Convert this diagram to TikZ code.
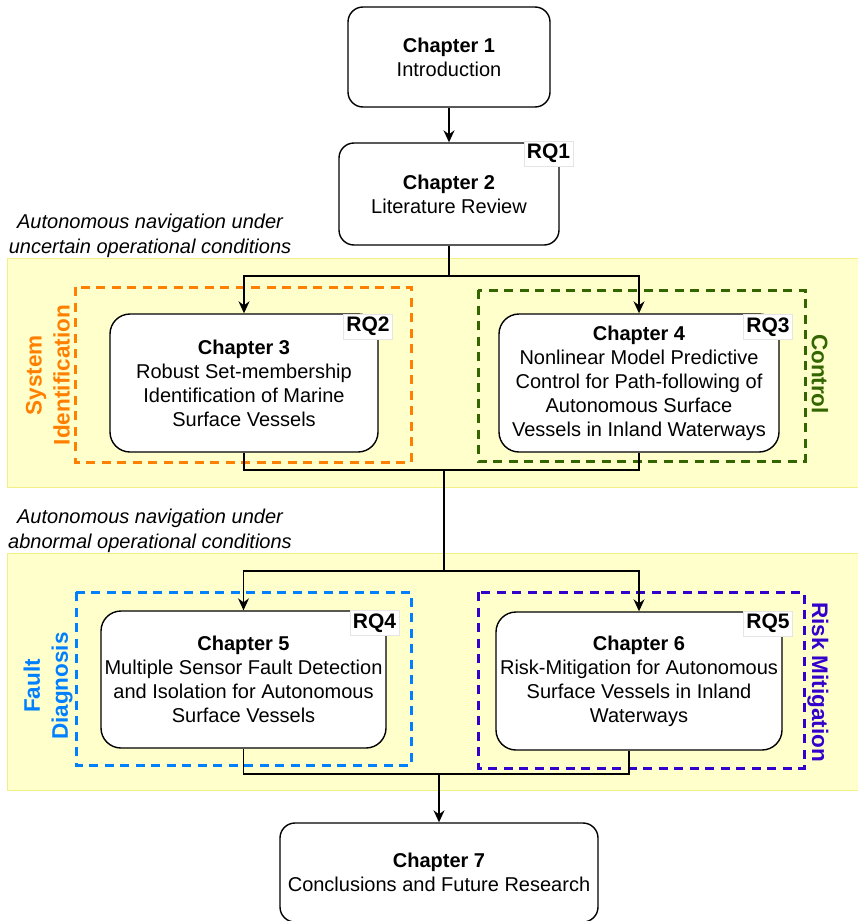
\documentclass[tikz,border=0pt]{standalone}
\usepackage{fontspec}
\setmainfont{Liberation Sans}
\usetikzlibrary{arrows.meta}

\definecolor{bandfill}{HTML}{FFFFCC}
\definecolor{bandline}{HTML}{F2EE88}
\definecolor{sysid}{HTML}{FF8000}
\definecolor{ctrl}{HTML}{336600}
\definecolor{fault}{HTML}{007FFF}
\definecolor{risk}{HTML}{3300CC}

\newcommand{\boxfont}{\fontsize{20}{24}\selectfont}

\tikzset{
  chap/.style={draw=black, line width=1.4pt, fill=white, rounded corners=#1,
    align=center, inner sep=0pt, font=\boxfont},
  chap/.default=15pt,
  rqtag/.style={fill=white, draw=black!10, line width=0.6pt, inner sep=0pt,
    font=\bfseries\fontsize{21}{24}\selectfont, minimum width=49pt, minimum height=25pt},
  grp/.style={draw=#1, line width=3pt, dash pattern=on 9pt off 6.5pt},
  band/.style={fill=bandfill, draw=bandline, line width=1pt},
  conn/.style={line width=1.4pt, draw=black},
  arr/.style={conn, -{Stealth[length=12pt, width=11pt, inset=4pt]}},
  side/.style={font=\bfseries\fontsize{22.5}{28}\selectfont, align=center, inner sep=0pt},
  theme/.style={font=\itshape\fontsize{20}{25}\selectfont, align=center, inner sep=0pt}
}

\begin{document}
\begin{tikzpicture}[x=1pt, y=-1pt]
\useasboundingbox (0,0) rectangle (857,921);

% background bands for the two groups of chapters
\draw[band] (7,258) rectangle (880,487);
\draw[band] (7,553) rectangle (880,790);

\node[theme] (t1) at (150,235.5) {Autonomous navigation under\\uncertain operational conditions};
\node[theme] (t2) at (150,530.5) {Autonomous navigation under\\abnormal operational conditions};

% dashed research-area frames
\draw[grp=sysid] (75,287) rectangle (411,462);
\draw[grp=ctrl]  (478,290) rectangle (805,461);
\draw[grp=fault] (76,592) rectangle (411,765);
\draw[grp=risk]  (478,592) rectangle (804,768);

\node[side, sysid, rotate=90]  (l1) at (48,375) {System\\Identification};
\node[side, ctrl, rotate=-90]  (l2) at (820,374) {Control};
\node[side, fault, rotate=90]  (l3) at (48,686) {Fault\\Diagnosis};
\node[side, risk, rotate=-90]  (l4) at (818,682) {Risk Mitigation};

% chapters
\node[chap, minimum width=202pt, minimum height=100pt] (ch1) at (449,57)
  {\textbf{Chapter 1}\\Introduction};
\node[chap, minimum width=220pt, minimum height=102pt] (ch2) at (449,194)
  {\textbf{Chapter 2}\\Literature Review};
\node[chap=20pt, minimum width=268pt, minimum height=138pt] (ch3) at (244,383)
  {\textbf{Chapter 3}\\Robust Set-membership\\Identification of Marine\\Surface Vessels};
\node[chap=20pt, minimum width=280pt, minimum height=138pt] (ch4) at (639,383)
  {\textbf{Chapter 4}\\Nonlinear Model Predictive\\Control for Path-following of\\Autonomous Surface\\Vessels in Inland Waterways};
\node[chap=20pt, minimum width=285pt, minimum height=137pt] (ch5) at (243.5,679.5)
  {\textbf{Chapter 5}\\Multiple Sensor Fault Detection\\and Isolation for Autonomous\\Surface Vessels};
\node[chap=20pt, minimum width=286pt, minimum height=138pt] (ch6) at (639,681)
  {\textbf{Chapter 6}\\Risk-Mitigation for Autonomous\\Surface Vessels in Inland\\Waterways};
\node[chap, minimum width=318pt, minimum height=99pt] (ch7) at (439,872.5)
  {\textbf{Chapter 7}\\Conclusions and Future Research};

% connectors
\coordinate (s1) at (449,276);
\coordinate (m1) at (444,470);
\coordinate (s2) at (444,571);
\coordinate (m2) at (439,774);

\draw[arr] (ch1.south) -- (ch2.north);
\draw[conn] (ch2.south) -- (s1);
\draw[arr] (s1) -| (ch3.north);
\draw[arr] (s1) -| (ch4.north);
\draw[conn] (ch3.south) |- (m1) -| (ch4.south);
\draw[conn] (m1) -- (s2);
\draw[arr] (s2) -| (ch5.north);
\draw[arr] (s2) -| (ch6.north);
\draw[conn] (ch5.south) |- (m2) -| ([xshift=-10pt]ch6.south);
\draw[arr] (m2) -- (ch7.north);

% research question tags
\node[rqtag] (rq1) at (548.5,153.5) {RQ1};
\node[rqtag] (rq2) at (368,326.5) {RQ2};
\node[rqtag] (rq3) at (768,327) {RQ3};
\node[rqtag] (rq4) at (374.5,623) {RQ4};
\node[rqtag] (rq5) at (768,623.5) {RQ5};
\end{tikzpicture}
\end{document}
